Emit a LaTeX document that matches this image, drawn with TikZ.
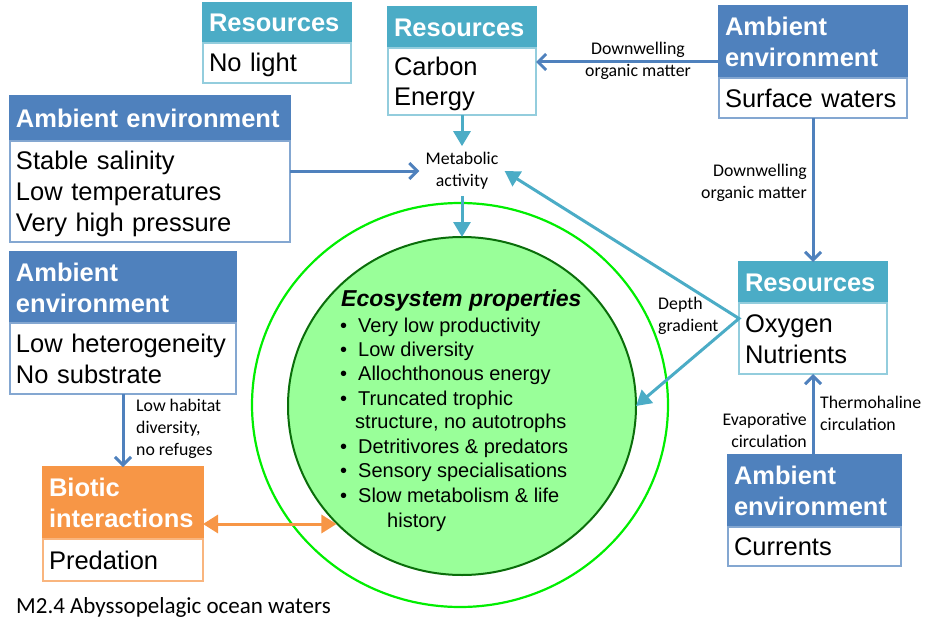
\documentclass[tikz,border=0pt]{standalone}
\usepackage{fontspec}
\setmainfont{Liberation Sans}
\newfontfamily\lblfont{Carlito}
\usetikzlibrary{arrows.meta,positioning,shapes.geometric}

\definecolor{resTeal}{HTML}{4BACC6}
\definecolor{ambBlue}{HTML}{4F81BD}
\definecolor{bioOrange}{HTML}{F79646}
\definecolor{ecoFill}{HTML}{99FF99}
\definecolor{ecoLine}{HTML}{0A6E0A}
\definecolor{ringLine}{HTML}{00EE00}

\newcommand{\ecoBullet}{\makebox[18pt][l]{\textbullet}}

\begin{document}
\begin{tikzpicture}
[
	             x = 1pt, y = -1pt,
	 tealTip/.tip = { Triangle[width=17pt,length=15pt] },
	 barbTip/.tip = { Straight Barb[width=16pt,length=8pt] },
	  bioTip/.tip = { Triangle[width=18pt,length=15pt] },
	    head/.style = { anchor=north west, align=left, inner xsep=6pt, inner ysep=0pt, outer sep=0pt,
	                    line width=1.2pt, text=white, font=\bfseries\fontsize{25.5}{31}\selectfont },
	    body/.style = { anchor=north west, align=left, inner xsep=6pt, inner ysep=0pt, outer sep=0pt,
	                    execute at begin node={\rule{0pt}{24pt}}, execute at end node={\rule[-6pt]{0pt}{6pt}},
	                    line width=1.2pt, fill=white, font=\fontsize{25.5}{31}\selectfont },
	 resHead/.style = { head, fill=resTeal, draw=resTeal },
	 resBody/.style = { body, draw=resTeal!60 },
	 ambHead/.style = { head, fill=ambBlue, draw=ambBlue },
	 ambBody/.style = { body, draw=ambBlue!70 },
	 bioHead/.style = { head, fill=bioOrange, draw=bioOrange },
	 bioBody/.style = { body, draw=bioOrange!70 },
	     lbl/.style = { inner sep=2pt, font=\lblfont\fontsize{17.8}{22}\selectfont },
	  ecoTxt/.style = { anchor=base west, inner sep=0pt, font=\fontsize{20}{24}\selectfont },
	blueArrow/.style = { draw=ambBlue, line width=3pt, -{barbTip} },
	tealArrow/.style = { draw=resTeal, line width=3pt, -{tealTip} },
      bioArrow/.style = { draw=bioOrange, line width=3pt, {bioTip}-{bioTip} }
]

    \useasboundingbox (0,0) rectangle (937,634);

    % central circles
    \node (ring)            at (460,405) [ellipse, draw=ringLine, line width=2.2pt, inner sep=0pt, outer sep=0pt,
                                          minimum width=416pt, minimum height=404pt] {};
    \node (eco)             at (462,406) [ellipse, draw=ecoLine, fill=ecoFill, line width=2pt, inner sep=0pt, outer sep=0pt,
                                          minimum width=348pt, minimum height=338pt] {};

    \node (ecoTitle)        at (341,306) [ecoTxt, font=\bfseries\itshape\fontsize{23}{28}\selectfont] {Ecosystem properties};
    \node (ecoProd)         at (340,332) [ecoTxt] {\ecoBullet Very low productivity};
    \node (ecoDiv)          at (340,356) [ecoTxt] {\ecoBullet Low diversity};
    \node (ecoEnergy)       at (340,380) [ecoTxt] {\ecoBullet Allochthonous energy};
    \node (ecoTrophic)      at (340,405) [ecoTxt] {\ecoBullet Truncated trophic};
    \node (ecoTrophicB)     at (355,428) [ecoTxt] {structure, no autotrophs};
    \node (ecoDetr)         at (340,453) [ecoTxt] {\ecoBullet Detritivores \& predators};
    \node (ecoSens)         at (340,477) [ecoTxt] {\ecoBullet Sensory specialisations};
    \node (ecoSlow)         at (340,502) [ecoTxt] {\ecoBullet Slow metabolism \& life};
    \node (ecoSlowB)        at (387,527) [ecoTxt] {history};

    % boxes
    \node (noLightHead)     at (203,3)   [resHead, text width=136pt, minimum height=40pt] {Resources};
    \node (noLightBody)     at (noLightHead.south west) [resBody, text width=136pt, minimum height=40pt] {No light};

    \node (carbonHead)      at (388,7)   [resHead, text width=136pt, minimum height=41pt] {Resources};
    \node (carbonBody)      at (carbonHead.south west) [resBody, text width=136pt, minimum height=67pt] {Carbon\\Energy};

    \node (surfaceHead)     at (719,6)   [ambHead, text width=176pt, minimum height=72pt] {Ambient\\environment};
    \node (surfaceBody)     at (surfaceHead.south west) [ambBody, text width=176pt, minimum height=40pt] {Surface waters};

    \node (salinityHead)    at (10,96)   [ambHead, text width=268pt, minimum height=45pt] {Ambient environment};
    \node (salinityBody)    at (salinityHead.south west) [ambBody, text width=268pt, minimum height=101pt]
                                         {Stable salinity\\Low temperatures\\Very high pressure};

    \node (heteroHead)      at (10,252)  [ambHead, text width=214pt, minimum height=71pt] {Ambient\\environment};
    \node (heteroBody)      at (heteroHead.south west) [ambBody, text width=214pt, minimum height=71pt]
                                         {Low heterogeneity\\No substrate};

    \node (bioticHead)      at (43,467)  [bioHead, text width=148pt, minimum height=72pt] {Biotic\\interactions};
    \node (bioticBody)      at (bioticHead.south west) [bioBody, text width=148pt, minimum height=42pt] {Predation};

    \node (oxygenHead)      at (739,262) [resHead, text width=136pt, minimum height=41pt] {Resources};
    \node (oxygenBody)      at (oxygenHead.south west) [resBody, text width=136pt, minimum height=71pt] {Oxygen\\Nutrients};

    \node (currentsHead)    at (728,455) [ambHead, text width=161pt, minimum height=72pt] {Ambient\\environment};
    \node (currentsBody)    at (currentsHead.south west) [ambBody, text width=161pt, minimum height=39pt] {Currents};

    % labels
    \node (metab)           at (462,171) [lbl, inner sep=6pt, align=center] {Metabolic\\activity};
    \node (downTopLabel)    at (638,61)  [lbl, align=center] {Downwelling\\organic matter};
    \node (downRightLabel)  at (809,183) [lbl, anchor=east, align=right] {Downwelling\\organic matter};
    \node (depthLabel)      at (656,316) [lbl, anchor=west, align=left] {Depth\\gradient};
    \node (evapLabel)       at (809,430) [lbl, anchor=east, align=right] {Evaporative\\circulation};
    \node (thermoLabel)     at (818,413) [lbl, anchor=west, align=left] {Thermohaline\\circulation};
    \node (habitatLabel)    at (134,429) [lbl, anchor=west, align=left] {Low habitat\\diversity,\\no refuges};
    \node (caption)         at (14,607)  [anchor=west, inner sep=2pt, font=\lblfont\fontsize{23}{28}\selectfont]
                                         {M2.4 Abyssopelagic ocean waters};

    \coordinate (oxyJoin)   at ([yshift=20pt]oxygenBody.west);
    \coordinate (bioJoin)   at ([yshift=-21pt]bioticHead.east);

    % connectors
    \draw [blueArrow] ([yshift=-20pt]surfaceHead.west) -- ([yshift=-20pt]surfaceHead.west -| carbonBody.east);
    \draw [blueArrow] (surfaceBody.south) -- (oxygenHead.north);
    \draw [blueArrow] (currentsHead.north -| oxygenBody.south) -- (oxygenBody.south);
    \draw [blueArrow] (heteroBody.south) -- (bioticHead.north);
    \draw [blueArrow] (salinityBody.east |- metab.west) -- (metab.west);

    \draw [tealArrow] (carbonBody.south) -- (metab.north);
    \draw [tealArrow] (metab.south) -- (eco.north);
    \draw [tealArrow, {tealTip}-{tealTip}] (metab.east) -- (oxyJoin) -- (eco.east);

    \draw [bioArrow] (bioJoin) -- (bioJoin -| eco.223.6);

\end{tikzpicture}
\end{document}
